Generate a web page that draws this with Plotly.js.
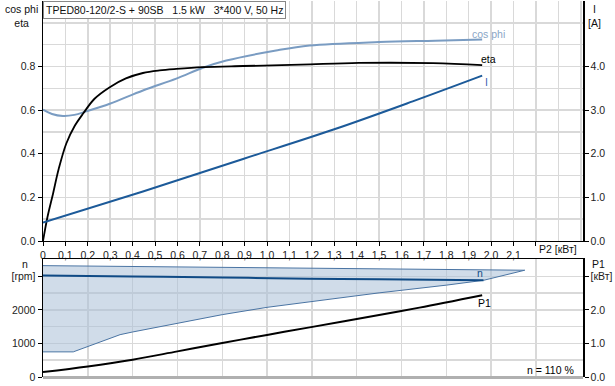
<!DOCTYPE html>
<html>
<head>
<meta charset="utf-8">
<script src="https://cdn.plot.ly/plotly-3.0.1.min.js"></script>
<style>
html,body{margin:0;padding:0;background:#fff;}
#chart{width:615px;height:386px;}
</style>
</head>
<body>
<div id="chart"></div>
<script>
// ---------- DATA ----------
// Upper panel: P2 [kW] on x
const etaP2 = [0, 0.02, 0.045, 0.07, 0.104, 0.14, 0.179, 0.23, 0.298, 0.37, 0.446, 0.52, 0.595, 0.714, 0.893, 1.15, 1.41, 1.74, 1.96];
const etaVal = [0, 0.11, 0.218, 0.33, 0.447, 0.525, 0.584, 0.652, 0.705, 0.745, 0.770, 0.782, 0.789, 0.797, 0.802, 0.808, 0.816, 0.815, 0.806];

const cosP2 = [0, 0.04, 0.089, 0.14, 0.193, 0.298, 0.446, 0.595, 0.714, 0.818, 1.04, 1.19, 1.5, 1.75, 1.96];
const cosVal = [0.602, 0.582, 0.573, 0.578, 0.594, 0.629, 0.69, 0.744, 0.794, 0.827, 0.873, 0.896, 0.912, 0.918, 0.923];

const curP2 = [0, 0.446, 0.893, 1.3, 1.65, 1.96];
const curA = [0.42, 1.136, 1.88, 2.56, 3.2, 3.79];

// Lower panel
const nP2 = [0, 0.4, 0.8, 1.19, 1.5, 1.966];
const nRpm = [3030, 3000, 2968, 2934, 2913, 2884];

const rangeTopP2 = [0, 0.6, 1.19, 1.5, 2.15];
const rangeTopRpm = [3322, 3280, 3233, 3212, 3185];
const rangeLowP2 = [0, 0.135, 0.2, 0.344, 0.4, 0.6, 0.8, 1.0, 1.19, 1.41, 1.5, 1.8, 1.966];
const rangeLowRpm = [750, 750, 900, 1263, 1343, 1612, 1860, 2078, 2240, 2430, 2510, 2740, 2884];

const p1P2 = [0, 0.2, 0.4, 0.6, 0.8, 1.006, 1.19, 1.5, 1.68, 1.96];
const p1kW = [0.149, 0.316, 0.516, 0.764, 1.014, 1.263, 1.48, 1.85, 2.07, 2.44];

// Tick labels
const xTickVals = [0,0.1,0.2,0.3,0.4,0.5,0.6,0.7,0.8,0.9,1.0,1.1,1.2,1.3,1.4,1.5,1.6,1.7,1.8,1.9,2.0,2.1,2.2];
const xTickText = ["0","0,1","0,2","0,3","0,4","0,5","0,6","0,7","0,8","0,9","1,0","1,1","1,2","1,3","1,4","1,5","1,6","1,7","1,8","1,9","2,0","2,1",""];
const yTopVals = [0,0.2,0.4,0.6,0.8];
const yTopText = ["0.0","0.2","0.4","0.6","0.8"];
const yTopRVals = [0,1,2,3,4];
const yTopRText = ["0.0","1.0","2.0","3.0","4.0"];
const yBotVals = [0,1000,2000,3000];
const yBotText = ["0","1000","2000","[rpm]"];
const yBotRVals = [0,1,2,3];
const yBotRText = ["0.0","1.0","2.0","[кВт]"];
const xBotGrid = [0,0.2,0.4,0.6,0.8,1.0,1.2,1.4,1.6,1.8,2.0,2.2];

// ---------- BUILD ----------
const polyX = rangeTopP2.concat(rangeLowP2.slice().reverse());
const polyY = rangeTopRpm.concat(rangeLowRpm.slice().reverse());

const GRID = '#d9d9d9';
const FONT = 'Liberation Sans, Arial, sans-serif';
const FS = 10.5;

const traces = [
  {x: polyX, y: polyY, xaxis:'x2', yaxis:'y3', mode:'lines', fill:'toself',
   fillcolor:'rgba(170,192,215,0.55)', line:{color:'#4a74a3', width:1}, hoverinfo:'skip'},
  {x: nP2, y: nRpm, xaxis:'x2', yaxis:'y3', mode:'lines', line:{color:'#0f4a85', width:2, shape:'spline'}},
  {x: p1P2, y: p1kW, xaxis:'x2', yaxis:'y4', mode:'lines', line:{color:'#000', width:2, shape:'spline'}},
  {x: curP2, y: curA, xaxis:'x', yaxis:'y2', mode:'lines', line:{color:'#1c5a99', width:2, shape:'spline'}},
  {x: cosP2, y: cosVal, xaxis:'x', yaxis:'y', mode:'lines', line:{color:'#7a9cc2', width:2, shape:'spline'}},
  {x: etaP2, y: etaVal, xaxis:'x', yaxis:'y', mode:'lines', line:{color:'#000', width:1.8, shape:'spline'}}
];

const PB = 377, PH = 376;
function py(p){ return (PB - p)/PH; }

const tickFont = {family: FONT, size: FS, color:'#222'};

const layout = {
  width: 615, height: 386,
  margin: {l:43, r:32, t:1, b:9, pad:0},
  paper_bgcolor:'#fff', plot_bgcolor:'#fff',
  showlegend:false,
  font:{family:FONT, size:FS, color:'#222'},
  xaxis: {domain:[0,1], anchor:'y', range:[0,2.41], tickmode:'array', tickvals:xTickVals, ticktext:xTickText,
    ticks:'outside', ticklen:4, tickcolor:'#000', showline:true, linecolor:'#000', linewidth:1,
    showgrid:true, gridcolor:GRID, gridwidth:1.5, zeroline:false, tickfont:tickFont,
    minor:{dtick:0.1, tick0:0, showgrid:true, gridcolor:GRID, gridwidth:1.5, ticks:''}},
  yaxis: {domain:[py(241),1], anchor:'x', range:[0,1.1], tickmode:'array', tickvals:yTopVals, ticktext:yTopText,
    ticks:'outside', ticklen:4, tickcolor:'#000', showline:true, linecolor:'#000', linewidth:1.5,
    showgrid:true, gridcolor:GRID, gridwidth:1.5, zeroline:false, tickfont:tickFont,
    minor:{dtick:0.1, tick0:0, showgrid:true, gridcolor:GRID, gridwidth:1.5, ticks:''}},
  yaxis2: {overlaying:'y', anchor:'x', side:'right', range:[0,5.5], tickmode:'array', tickvals:yTopRVals, ticktext:yTopRText,
    ticks:'outside', ticklen:4, tickcolor:'#000', showline:true, linecolor:'#000', linewidth:1.5,
    showgrid:false, zeroline:false, tickfont:tickFont},
  xaxis2: {domain:[0,1], anchor:'y3', side:'top', range:[0,2.41], tickmode:'array', tickvals:xBotGrid,
    showticklabels:false, ticks:'', showline:true, linecolor:'#000', linewidth:1.5,
    showgrid:true, gridcolor:GRID, gridwidth:1.5, zeroline:false},
  yaxis3: {domain:[0,py(259)], anchor:'x2', range:[0,3520], tickmode:'array', tickvals:yBotVals, ticktext:yBotText,
    ticks:'outside', ticklen:4, tickcolor:'#000', showline:true, linecolor:'#000', linewidth:1.5,
    showgrid:true, gridcolor:GRID, gridwidth:1.5, zeroline:true, zerolinecolor:'#b0b0b0', zerolinewidth:3, tickfont:tickFont,
    minor:{dtick:500, tick0:0, showgrid:true, gridcolor:GRID, gridwidth:1.5, ticks:''}},
  yaxis4: {overlaying:'y3', anchor:'x2', side:'right', range:[0,3.52], tickmode:'array', tickvals:yBotRVals, ticktext:yBotRText,
    ticks:'outside', ticklen:4, tickcolor:'#000', showline:true, linecolor:'#000', linewidth:1.5,
    showgrid:false, zeroline:false, tickfont:tickFont},
  annotations: [
    {xref:'paper', yref:'paper', x:0, y:1, xanchor:'left', yanchor:'top', showarrow:false,
     text:'TPED80-120/2-S + 90SB\u00a0\u00a0 1.5 kW\u00a0\u00a0 3*400 V, 50 Hz',
     font:{family:FONT, size:FS, color:'#111'}, bgcolor:'#fff', bordercolor:'#888', borderwidth:1, borderpad:2},
    {xref:'paper', yref:'paper', x:-3/540, y:py(1), xanchor:'right', yanchor:'top', showarrow:false, align:'center',
     text:'cos phi<br>eta', font:{family:FONT, size:FS, color:'#111'}},
    {xref:'paper', yref:'paper', x:(594-43)/540, y:py(1), xanchor:'center', yanchor:'top', showarrow:false, align:'center',
     text:'I<br>[A]', font:{family:FONT, size:FS, color:'#111'}},
    {xref:'paper', yref:'paper', x:(25-43)/540, y:py(264), xanchor:'center', yanchor:'middle', showarrow:false,
     text:'n', font:{family:FONT, size:FS, color:'#111'}},
    {xref:'paper', yref:'paper', x:(598-43)/540, y:py(264), xanchor:'center', yanchor:'middle', showarrow:false,
     text:'P1', font:{family:FONT, size:FS, color:'#111'}},
    {xref:'x', yref:'paper', x:2.3, y:py(249), xanchor:'center', yanchor:'middle', showarrow:false,
     text:'P2 [кВт]', font:{family:FONT, size:FS, color:'#111'}},
    {xref:'x', yref:'y', x:1.99, y:0.951, xanchor:'center', yanchor:'middle', showarrow:false,
     text:'cos phi', font:{family:FONT, size:FS, color:'#8aa6c6'}},
    {xref:'x', yref:'y', x:1.99, y:0.832, xanchor:'center', yanchor:'middle', showarrow:false,
     text:'eta', font:{family:FONT, size:FS, color:'#000'}},
    {xref:'x', yref:'y', x:1.98, y:0.727, xanchor:'center', yanchor:'middle', showarrow:false,
     text:'I', font:{family:FONT, size:FS, color:'#3a5fb0'}},
    {xref:'x2', yref:'y3', x:1.95, y:3113, xanchor:'center', yanchor:'middle', showarrow:false,
     text:'n', font:{family:FONT, size:FS, color:'#0f4a85'}},
    {xref:'x2', yref:'y3', x:1.97, y:2218, xanchor:'center', yanchor:'middle', showarrow:false,
     text:'P1', font:{family:FONT, size:FS, color:'#000'}},
    {xref:'x2', yref:'y3', x:2.38, y:218, xanchor:'right', yanchor:'middle', showarrow:false,
     text:'n = 110 %', font:{family:FONT, size:FS, color:'#000'}}
  ]
};

Plotly.newPlot('chart', traces, layout, {staticPlot:true, displayModeBar:false});
</script>
</body>
</html>
